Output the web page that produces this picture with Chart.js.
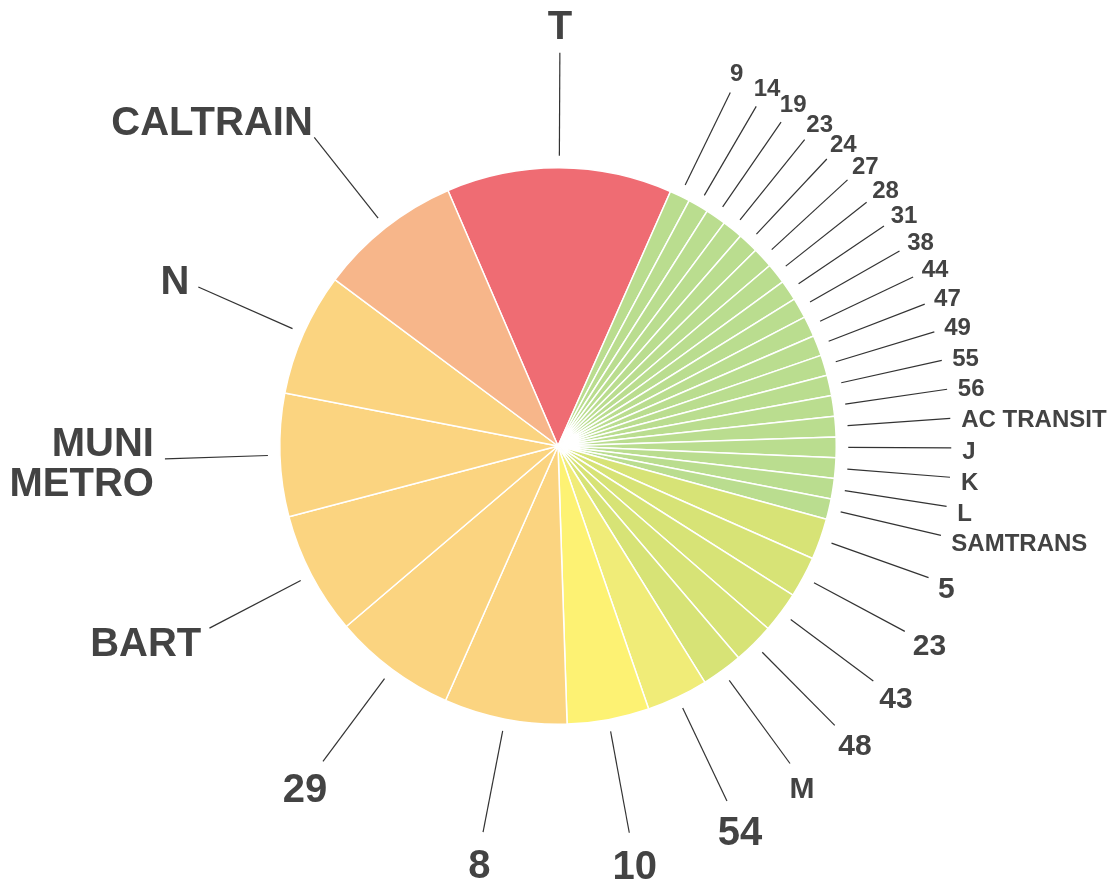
<html lang="en">
<head>
    <meta charset="UTF-8">
    <title>Routes</title>
    <style>
        body {
            margin: 0;
            background: #ffffff;
        }
        #pieChart {
            display: block;
        }
    </style>
</head>
<body>

<canvas id="pieChart" width="1107" height="879"></canvas>

<script src="https://cdn.jsdelivr.net/npm/chart.js"></script>
<script>
// route names, clockwise from the top
const routes = ['T', '9', '14', '19', '23', '24', '27', '28', '31', '38', '44', '47', '49', '55', '56',
    'AC TRANSIT', 'J', 'K', 'L', 'SAMTRANS', '5', '23', '43', '48', 'M', '54', '10',
    '8', '29', 'BART', ['MUNI', 'METRO'], 'N', 'CALTRAIN'];

// count per route
const counts = [11, 1, 1, 1, 1, 1, 1, 1, 1, 1, 1, 1, 1, 1, 1,
    1, 1, 1, 1, 1, 2, 2, 2, 2, 2, 3, 4,
    6, 6, 6, 6, 6, 7];

// slice colour by count
const colourByCount = {
    1: '#badd8f',
    2: '#d7e376',
    3: '#f0ec78',
    4: '#fdf273',
    6: '#fbd480',
    7: '#f7b68a',
    11: '#ef6c73'
};

function labelSize(n) {
    if (n <= 1) return 24;
    if (n == 2) return 30;
    return 40;
}

// labels outside the pie with leader lines
const outsideLabels = {
    id: 'outsideLabels',
    afterDatasetsDraw(chart) {
        const ctx = chart.ctx;
        const meta = chart.getDatasetMeta(0);
        meta.data.forEach((arc, i) => {
            const p = arc.getProps(['x', 'y', 'startAngle', 'endAngle', 'outerRadius'], true);
            const a = (p.startAngle + p.endAngle) / 2;
            const ux = Math.cos(a), uy = Math.sin(a);
            const r1 = p.outerRadius + 12, r2 = p.outerRadius + 115;
            const ex = p.x + ux * r2, ey = p.y + uy * r2;

            ctx.save();
            ctx.strokeStyle = '#333333';
            ctx.lineWidth = 1.2;
            ctx.beginPath();
            ctx.moveTo(p.x + ux * r1, p.y + uy * r1);
            ctx.lineTo(ex, ey);
            ctx.stroke();

            const size = labelSize(counts[i]);
            ctx.font = 'bold ' + size + 'px "Liberation Sans", Arial, sans-serif';
            ctx.fillStyle = '#434343';
            const lines = [].concat(routes[i]);
            const capH = size * 0.716;
            const w = Math.max(...lines.map(l => ctx.measureText(l).width));

            let x, k;
            if (Math.abs(ux) < 0.6) {
                ctx.textAlign = 'center';
                x = ex + ux * (w / 2 + 8);
                k = capH / 2 + 16;
            } else {
                const g = Math.max(0, 25 * Math.abs(ux) - 14);
                ctx.textAlign = ux > 0 ? 'left' : 'right';
                x = ux > 0 ? ex + g : ex - g;
                k = 24;
            }
            const cy = ey + uy * k + 2;
            const blockH = capH + (lines.length - 1) * size;
            const base = cy - blockH / 2 + capH;
            ctx.textBaseline = 'alphabetic';
            lines.forEach((l, j) => ctx.fillText(l, x, base + j * size));
            ctx.restore();
        });
    }
};

const ctx = document.getElementById('pieChart').getContext('2d');
const pieChart = new Chart(ctx, {
    type: 'pie',
    data: {
        labels: routes,
        datasets: [{
            data: counts,
            backgroundColor: counts.map(n => colourByCount[n]),
            borderColor: '#ffffff',
            borderWidth: 1.5,
            hoverOffset: 0
        }]
    },
    options: {
        responsive: false,
        animation: false,
        rotation: -23.3,
        layout: {
            padding: { top: 167, bottom: 154, left: 279, right: 270 }
        },
        plugins: {
            legend: { display: false },
            tooltip: { enabled: false }
        }
    },
    plugins: [outsideLabels]
});
</script>

</body>
</html>
